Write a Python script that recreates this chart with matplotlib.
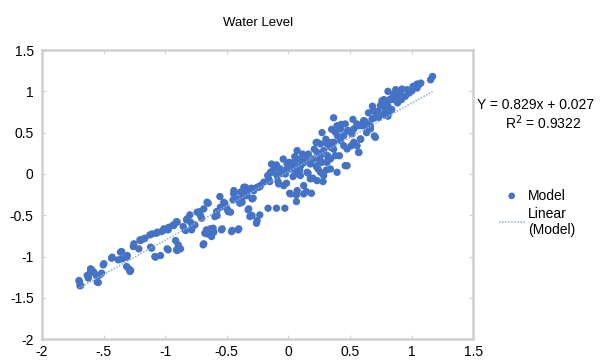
import numpy as np
import matplotlib.pyplot as plt

plt.rcParams['font.family'] = ['Liberation Sans', 'DejaVu Sans']

# points (x, y)
x_low = [-1.697, -1.692, -1.624, -1.611, -1.597, -1.557, -1.543, -1.516, -1.503, -1.435,
         -1.381, -1.354, -1.313, -1.313, -1.286, -1.259, -1.205, -1.165, -1.124, -1.110,
         -1.084, -1.070, -1.029, -1.002, -0.976, -0.976, -0.935, -0.908, -0.908, -0.894,
         -0.854, -0.827, -0.800, -0.786, -0.759, -0.719, -0.705, -0.692, -0.678, -0.665,
         -0.651, -0.624, -0.611, -0.597, -0.583, -0.556, -0.543, -0.516, -0.489, -0.462,
         -0.449, -0.408, -0.394, -0.367, -0.340, -0.327, -0.313, -0.300, -0.286, -0.259,
         -0.232, -0.232, -0.165, -0.151, -0.124, -0.097, -0.097, -0.084, -0.056, -0.029,
         -0.016, 0.011, 0.011, 0.038, 0.052, 0.065, 0.065, 0.092, 0.119, 0.146,
         0.160, 0.187, 0.200, 0.227, 0.255, 0.281, 0.309, 0.322]
y_low = [-1.302, -1.355, -1.262, -1.202, -1.161, -1.234, -1.315, -1.202, -1.101, -1.020,
         -1.040, -0.940, -1.008, -1.121, -1.181, -0.879, -0.798, -0.778, -0.738, -0.899,
         -1.000, -0.718, -0.698, -0.677, -0.919, -0.677, -0.617, -0.577, -0.919, -0.859,
         -0.637, -0.556, -0.496, -0.677, -0.617, -0.456, -0.536, -0.859, -0.718, -0.677,
         -0.355, -0.758, -0.657, -0.516, -0.456, -0.274, -0.677, -0.355, -0.456, -0.698,
         -0.315, -0.677, -0.355, -0.274, -0.234, -0.435, -0.516, -0.173, -0.294, -0.597,
         -0.496, -0.153, -0.415, -0.093, 0.048, 0.109, -0.415, -0.093, 0.008, -0.415,
         -0.113, -0.234, 0.089, -0.032, 0.210, -0.254, -0.335, 0.048, 0.129, -0.214,
         0.008, -0.234, -0.052, 0.089, 0.169, -0.093, 0.048, 0.190]

x_top = [1.170, 1.154, 1.059, 1.044, 0.965, 0.949, 0.902, 0.871, 0.808, 0.776,
         0.839, 0.808, 0.760, 0.729, 0.698, 0.682, 0.650, 0.619, 0.698, 0.619,
         0.556, 0.524, 0.477, 0.430, 0.399, 0.367, 0.351, 0.336, 0.304, 0.273,
         0.225, 0.210, 0.162, 0.115, 0.099, 0.068, 0.052, 0.005, -0.011, -0.042,
         -0.074, -0.089, -0.137, -0.137, -0.168, 0.241, 0.273, 0.320, 0.367, 0.461,
         0.414, 0.572, 0.509, 0.587, 0.635, 0.666, 0.776, 0.808, 0.839, 0.886,
         0.918, 0.981, 1.012, 1.075]
y_top = [1.18, 1.14, 1.08, 1.04, 1.02, 0.94, 0.98, 1.02, 1.00, 0.90,
         0.90, 0.82, 0.86, 0.76, 0.68, 0.82, 0.74, 0.64, 0.46, 0.58,
         0.58, 0.66, 0.52, 0.60, 0.46, 0.68, 0.54, 0.38, 0.42, 0.50,
         0.38, 0.30, 0.24, 0.24, 0.10, 0.18, 0.08, 0.14, 0.06, 0.18,
         0.06, -0.02, 0.12, 0.02, -0.02, 0.06, 0.14, 0.22, 0.30, 0.10,
         0.22, 0.26, 0.34, 0.42, 0.50, 0.58, 0.72, 0.70, 0.78, 0.86,
         0.90, 0.98, 1.06, 1.10]

x_mid = [1.044, 1.003, 0.922, 0.908, 0.881, 0.854, 0.827, 0.800, 0.760, 0.746,
         0.787, 0.814, 0.719, 0.692, 0.733, 0.679, 0.638, 0.611, 0.584, 0.557,
         0.530, 0.516, 0.489, 0.462, 0.449, 0.422, 0.395, 0.381, 0.706, 0.665,
         0.584, 0.557, 0.570, 0.530, 0.476, 0.449, 0.422, 0.367, 0.341, 0.314,
         0.286, 0.260, 0.233, 0.205, 0.178, 0.152, 0.124, 0.097, 0.071, 0.043,
         0.016, -0.011, -0.024, -0.065, -0.092, -0.119, -0.146, -0.160, -0.200, -0.227,
         -0.254, -0.281, -0.308, -0.349, -0.389, -0.443, 0.476, 0.395, 0.341, 0.286,
         0.233, 0.178, 0.124, 0.071, 0.016, -0.038, -0.079, 0.124, 0.260, 0.314,
         0.233, 0.152, 0.097, 0.057, 0.071, 0.260, 0.341, 0.381, 0.233, 0.124]
y_mid = [1.088, 1.007, 1.028, 0.988, 0.927, 0.967, 0.907, 0.867, 0.887, 0.826,
         0.786, 0.746, 0.746, 0.766, 0.685, 0.665, 0.605, 0.645, 0.584, 0.605,
         0.544, 0.484, 0.524, 0.605, 0.463, 0.544, 0.584, 0.504, 0.443, 0.544,
         0.423, 0.342, 0.262, 0.383, 0.302, 0.342, 0.403, 0.383, 0.323, 0.363,
         0.282, 0.221, 0.262, 0.181, 0.121, 0.161, 0.221, 0.100, 0.181, 0.141,
         0.060, 0.121, 0.000, 0.060, -0.020, 0.100, 0.020, -0.060, -0.100, -0.141,
         -0.161, -0.202, -0.181, -0.161, -0.221, -0.202, 0.100, 0.020, 0.060, -0.020,
         -0.081, -0.060, -0.141, -0.202, -0.242, -0.141, -0.121, -0.242, 0.020, 0.141,
         0.100, 0.020, -0.020, 0.000, 0.282, 0.363, 0.181, 0.221, 0.383, 0.181]

x_left = [-1.700, -1.687, -1.633, -1.606, -1.579, -1.538, -1.552, -1.498, -1.430, -1.363,
          -1.349, -1.308, -1.295, -1.281, -1.254, -1.200, -1.214, -1.173, -1.119, -1.106,
          -1.065, -1.079, -1.038, -1.011, -0.984, -0.971, -0.930, -0.916, -0.903, -0.876,
          -0.903, -0.835, -0.822, -0.795, -0.781, -0.741, -0.714, -0.687, -0.660, -0.687,
          -0.660, -0.633, -0.606, -0.579, -0.552, -0.525, -0.538, -0.498, -0.470, -0.457,
          -0.444, -0.416, -0.403, -0.376, -0.362, -0.335, -0.295, -0.322, -0.295, -0.254,
          -0.241]
y_left = [-1.290, -1.350, -1.229, -1.149, -1.189, -1.229, -1.310, -1.088, -1.008, -0.947,
          -1.028, -0.988, -1.149, -1.169, -0.846, -0.806, -0.907, -0.786, -0.887, -0.726,
          -0.705, -1.008, -0.988, -0.665, -0.907, -0.645, -0.625, -0.806, -0.927, -0.907,
          -0.584, -0.685, -0.544, -0.584, -0.645, -0.463, -0.504, -0.423, -0.343, -0.846,
          -0.726, -0.665, -0.705, -0.504, -0.403, -0.343, -0.665, -0.423, -0.463, -0.685,
          -0.242, -0.302, -0.665, -0.343, -0.161, -0.262, -0.302, -0.423, -0.504, -0.564,
          -0.161]

slope = 0.829
intercept = 0.027
r2 = 0.9322

x_ticks = [-2, -1.5, -1, -0.5, 0, 0.5, 1, 1.5]
x_tick_labels = ['-2', '-.5', '-1', '-0.5', '0', '0.5', '1', '1.5']
y_ticks = [-2, -1.5, -1, -0.5, 0, 0.5, 1, 1.5]
y_tick_labels = ['-2', '-1.5', '-1', '-0.5', '0', '0.5', '1', '1.5']

x = np.array(x_low + x_top + x_mid + x_left)
y = np.array(y_low + y_top + y_mid + y_left)

fig = plt.figure(figsize=(6.09, 3.6), dpi=100)
ax = fig.add_axes([0.069, 0.058, 0.708, 0.803])

ax.scatter(x, y, s=28, color='#4472C4', edgecolors='none', label='Model', zorder=3)
xl = np.array([x.min(), x.max()])
ax.plot(xl, slope * xl + intercept, linestyle=(0, (1, 1)), color='#8FAADC',
        linewidth=1.1, label='Linear\n(Model)', zorder=4)

ax.set_xlim(-2, 1.5)
ax.set_ylim(-2, 1.5)
ax.set_xticks(x_ticks)
ax.set_xticklabels(x_tick_labels)
ax.set_yticks(y_ticks)
ax.set_yticklabels(y_tick_labels)
ax.tick_params(axis='both', labelsize=10, direction='in', length=3, color='#D0D0D0',
               top=True, right=True)
ax.tick_params(axis='x', pad=4)
ax.tick_params(axis='y', pad=6)
for s in ax.spines.values():
    s.set_color('#CFCFCF')
    s.set_linewidth(1.8)

ax.set_title('Water Level', fontsize=9.5, pad=17)

fig.text(477 / 609, 1 - 105 / 360, 'Y = %.3fx + %.3f' % (slope, intercept),
         fontsize=10, ha='left', va='center')
fig.text(543 / 609, 1 - 123 / 360, 'R$^2$ = %.4f' % r2, fontsize=10, ha='center', va='center')

fig.legend(loc='upper left', bbox_to_anchor=(486 / 609, 1 - 176 / 360), frameon=False,
           fontsize=10, handlelength=1.9, handletextpad=0.2, labelspacing=0.3,
           markerscale=0.9)

fig.savefig('out.png', dpi=100)
